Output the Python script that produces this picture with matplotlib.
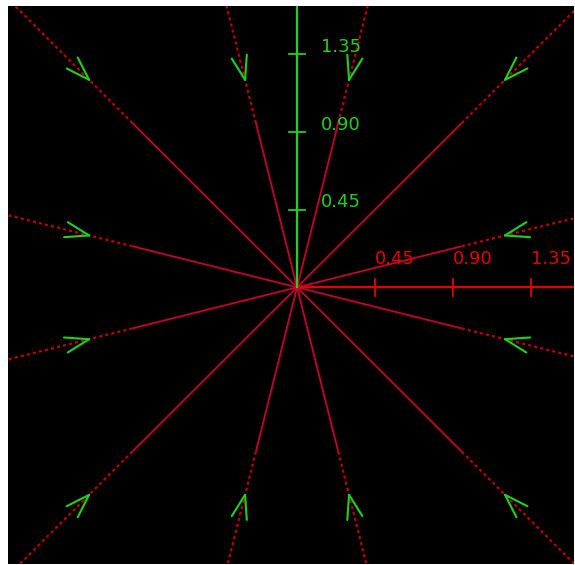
import numpy as np
import matplotlib
matplotlib.use('Agg')
import matplotlib.pyplot as plt

# trajectories of a stable star node: straight rays through the origin
slopes = [0.25, 1.0, 4.0, -0.25, -1.0, -4.0]
solid_reach = 0.95      # max(|x|,|y|) where the drawn trajectory ends
arrow_reach = 1.2       # max(|x|,|y|) where the direction arrows sit
x_ticks = [0.45, 0.90, 1.35]
y_ticks = [0.45, 0.90, 1.35]
x_tick_labels = ['0.45', '0.90', '1.35']
y_tick_labels = ['0.45', '0.90', '1.35']

xlim = (-1.668, 1.598)
ylim = (-1.60, 1.627)

line_col = '#c8002d'
dot_col = '#c00000'
green = '#1ed21e'
red = '#e60000'

fig = plt.figure(figsize=(5.75, 5.65), dpi=100)
ax = fig.add_axes([8 / 575, 1 / 565, 566 / 575, 558 / 565])
ax.set_facecolor('black')
ax.set_xlim(*xlim)
ax.set_ylim(*ylim)
ax.set_xticks([])
ax.set_yticks([])
for s in ax.spines.values():
    s.set_visible(False)

far = 3.0
for m in slopes:
    # unit direction of the ray
    d = np.array([1.0, m]) / np.hypot(1.0, m)
    norm = max(abs(d[0]), abs(d[1]))
    for sign in (1, -1):
        u = sign * d
        p_end = u * solid_reach / norm
        p_far = u * far / norm
        ax.plot([0, p_end[0]], [0, p_end[1]], color=line_col, lw=1.3, solid_capstyle='butt')
        ax.plot([p_end[0], p_far[0]], [p_end[1], p_far[1]], color=dot_col, lw=1.6,
                linestyle=(0, (1.4, 1.4)))
        # open chevron pointing toward the origin
        tip = u * arrow_reach / norm
        L = 0.145
        for ang in (np.radians(18), -np.radians(18)):
            c, s_ = np.cos(ang), np.sin(ang)
            v = np.array([c * u[0] - s_ * u[1], s_ * u[0] + c * u[1]])
            ax.plot([tip[0], tip[0] + L * v[0]], [tip[1], tip[1] + L * v[1]],
                    color=green, lw=1.5, solid_capstyle='round')

# positive half-axes with ticks
tick_half = 0.048
ax.plot([0, xlim[1] + 0.1], [0, 0], color=red, lw=1.6)
ax.plot([0, 0], [0, ylim[1] + 0.1], color=green, lw=1.6)
for t, lab in zip(x_ticks, x_tick_labels):
    ax.plot([t, t], [-tick_half, tick_half], color=red, lw=1.3)
    ax.text(t, 0.137, lab, color=red, fontsize=13, ha='left', va='baseline')
for t, lab in zip(y_ticks, y_tick_labels):
    ax.plot([-tick_half, tick_half], [t, t], color=green, lw=1.3)
    ax.text(0.14, t + 0.012, lab, color=green, fontsize=13, ha='left', va='baseline')

fig.savefig('out.png', dpi=100, facecolor='white')
